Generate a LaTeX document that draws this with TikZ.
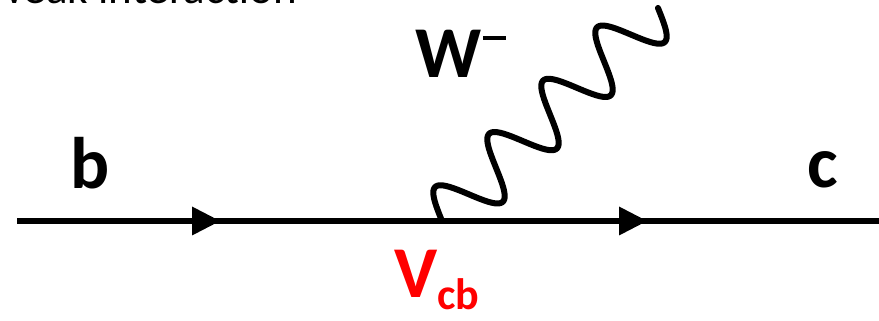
\documentclass[tikz,border=0pt]{standalone}
\usepackage{fontspec}
\setmainfont{Carlito}
\usetikzlibrary{decorations.markings}
\begin{document}
\begin{tikzpicture}[x=1pt,y=1pt]
\tikzset{
 fermion/.style={line width=6.5pt},
 arrowmark/.style={postaction={decorate,decoration={markings,mark=at position #1 with {\fill (-28pt,-14.5pt) -- (0pt,0pt) -- (-28pt,14.5pt) -- cycle;}}}},
 boson/.style={line width=6pt, line cap=round, line join=round},
 lbl/.style={inner sep=0pt, anchor=base west, font=\bfseries\fontsize{73}{73}\selectfont},
}
\useasboundingbox (0,0) rectangle (879,321);
\clip (0,0) rectangle (879,321);
\coordinate (bstart) at (17,100);
\coordinate (vtx) at (442,100);
\coordinate (cend) at (879,100);
\coordinate (wend) at (658,313);
\draw[fermion, arrowmark=203pt] (bstart) -- (vtx);
\draw[fermion, arrowmark=205pt] (vtx) -- (cend);
\begin{scope}[shift={(vtx)}, rotate=44.6]
\draw[boson] plot[domain=0:1440, samples=241, smooth] ({\x/360*75.84},{29*sin(\x)});
\end{scope}
\node[lbl] (b) at (70,132) {b};
\node[lbl] (c) at (807,133) {c};
\node[lbl] (W) at (415,243) {W\kern2pt\rule[38pt]{23pt}{3.5pt}};
\node[lbl, text=red] (V) at (394,23) {V{\fontsize{44}{44}\selectfont\raisebox{-12pt}{cb}}};
\node[inner sep=0pt, anchor=base east, font=\fontsize{45}{45}\selectfont] (title) at (297,317.5) {Weak interaction};
\end{tikzpicture}
\end{document}
